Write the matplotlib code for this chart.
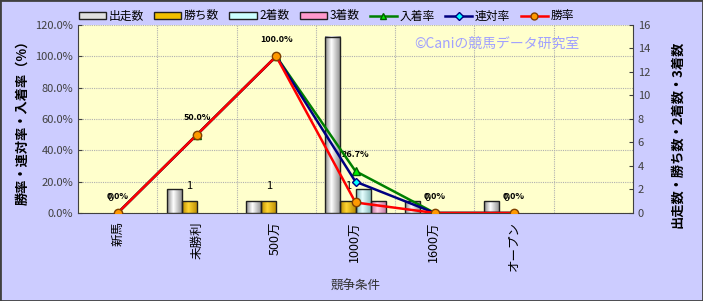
import numpy as np
import matplotlib.pyplot as plt
from matplotlib.colors import LinearSegmentedColormap
from matplotlib.patches import Rectangle
from matplotlib.lines import Line2D

plt.rcParams['font.family'] = ['Noto Sans CJK JP', 'DejaVu Sans']

# データ
categories = ['新馬', '未勝利', '500万', '1000万', '1600万', 'オープン']
starts = [0, 2, 1, 15, 1, 1]
wins = [0, 1, 1, 1, 0, 0]
seconds = [0, 0, 0, 2, 0, 0]
thirds = [0, 0, 0, 1, 0, 0]
win_rate = [0.0, 50.0, 100.0, 6.7, 0.0, 0.0]
rentai_rate = [0.0, 50.0, 100.0, 20.0, 0.0, 0.0]
place_rate = [0.0, 50.0, 100.0, 26.7, 0.0, 0.0]

x = np.arange(len(categories))
w = 0.19

fig = plt.figure(figsize=(7.03, 3.01), dpi=100, facecolor='#CCCCFF')
ax = fig.add_axes([0.111, 0.2924, 0.7894, 0.6246])
ax.set_facecolor('#FFFFCC')
ax2 = ax.twinx()
ax3 = ax.twinx()

# 棒グラフ（円柱風のグラデーション）
def grad_bars(a, xs, hs, dark, light, label):
    cmap = LinearSegmentedColormap.from_list(label, [dark, light, dark])
    grad = np.linspace(0, 1, 64)
    grad = np.clip(grad / 0.4, 0, 1) * (grad < 0.4) + (grad >= 0.4) * (1 + (grad - 0.4) / 0.6)
    grad = grad.reshape(1, -1) / 2
    bars = a.bar(xs, hs, w, color='none', edgecolor='#202020', lw=1.0, zorder=3)
    for b in bars:
        if b.get_height() <= 0:
            b.set_linewidth(0)
            continue
        a.imshow(grad, extent=[b.get_x(), b.get_x() + w, 0, b.get_height()],
                 aspect='auto', cmap=cmap, vmin=0, vmax=1, zorder=2)
    return bars

grad_bars(ax2, x - 1.5 * w, starts, '#8a8a8a', '#ffffff', 's')
grad_bars(ax2, x - 0.5 * w, wins, '#b88a00', '#ffd633', 'w')
grad_bars(ax2, x + 0.5 * w, seconds, '#7fb3b3', '#e6ffff', '2')
grad_bars(ax2, x + 1.5 * w, thirds, '#c0709a', '#ffd0e8', '3')

for xi, v in zip(x - 0.5 * w, wins):
    ax2.annotate(str(v), (xi, v), xytext=(0, 11), textcoords='offset points',
                 ha='center', va='center', fontsize=8, zorder=4)

# 折れ線
ax3.plot(x, place_rate, color='#008000', lw=1.8, marker='^', ms=6,
         mfc='#00ee00', mec='#006000', zorder=5)
ax3.plot(x, rentai_rate, color='#000080', lw=1.8, marker='D', ms=4.5,
         mfc='#00ffff', mec='#000080', zorder=6)
ax3.plot(x, win_rate, color='#ff0000', lw=1.8, marker='o', ms=6,
         mfc='#ff9900', mec='#804000', zorder=7)

for xi, v in zip(x, place_rate):
    ax3.annotate(f'{v:.1f}%', (xi, v), xytext=(0, 12), textcoords='offset points',
                 ha='center', va='center', fontsize=6.5, fontweight='bold')

# 軸
for a in (ax, ax2, ax3):
    a.set_xlim(-0.5, 6.5)
ax.set_ylim(0, 120)
ax3.set_ylim(0, 120)
ax2.set_ylim(0, 16)

ax.set_yticks(np.arange(0, 121, 20))
ax.set_yticklabels([f'{t:.1f}%' for t in np.arange(0, 121, 20)], fontsize=8, color='#404040')
ax2.set_yticks(np.arange(0, 17, 2))
ax2.tick_params(axis='y', labelsize=8, labelcolor='#404040', direction='in', length=3,
                color='#404040')
ax.tick_params(axis='y', direction='in', length=3, color='#404040')
ax3.set_yticks([])

ax.set_xticks(x)
ax.set_xticklabels(categories, rotation=90, fontsize=9)
ax.set_xticks(np.arange(0.5, 6.5, 1), minor=True)
ax.tick_params(axis='x', which='both', length=0, pad=6)

ax.grid(True, axis='y', which='major', color='#b0b0b0', ls=(0, (1, 1)), lw=0.8)
ax.grid(True, axis='x', which='minor', color='#b0b0b0', ls=(0, (1, 1)), lw=0.8)
ax.set_axisbelow(True)

for s in ax3.spines.values():
    s.set_visible(False)
for name, s in ax.spines.items():
    s.set_color('#404040')
ax.spines['right'].set_visible(False)
ax.spines['top'].set_visible(False)
ax2.spines['right'].set_color('#404040')
for name in ('left', 'top', 'bottom'):
    ax2.spines[name].set_visible(False)

ax.set_ylabel('勝率・連対率・入着率（%）', fontsize=9.5, fontweight='bold', labelpad=4)
ax2.set_ylabel('出走数・勝ち数・2着数・3着数', fontsize=9.5, fontweight='bold',
               rotation=90)
ax2.yaxis.set_label_coords(1.068, 0.42)
ax.set_xlabel('競争条件', fontsize=9, color='#303030', labelpad=6)

ax3.text(0.755, 0.9, '©Caniの競馬データ研究室', transform=ax3.transAxes,
         ha='center', va='center', fontsize=10, color='#a0a0ff')

# 凡例
handles = [
    Rectangle((0, 0), 1, 1, fc='#e0e0e0', ec='#202020'),
    Rectangle((0, 0), 1, 1, fc='#f0c000', ec='#202020'),
    Rectangle((0, 0), 1, 1, fc='#ccffff', ec='#202020'),
    Rectangle((0, 0), 1, 1, fc='#ff99cc', ec='#202020'),
    Line2D([], [], color='#008000', lw=1.8, marker='^', ms=5, mfc='#00ee00', mec='#006000'),
    Line2D([], [], color='#000080', lw=1.8, marker='D', ms=4, mfc='#00ffff', mec='#000080'),
    Line2D([], [], color='#ff0000', lw=1.8, marker='o', ms=5, mfc='#ff9900', mec='#804000'),
]
labels = ['出走数', '勝ち数', '2着数', '3着数', '入着率', '連対率', '勝率']
fig.legend(handles, labels, loc='center', bbox_to_anchor=(0.464, 0.947), ncol=7,
           frameon=False, fontsize=8.5, handlelength=2.3, handleheight=0.5,
           handletextpad=0.2, columnspacing=0.9)

fig.patches.append(Rectangle((0, 0), 1, 1, transform=fig.transFigure, fill=False,
                             edgecolor='#404040', lw=2))

fig.savefig('out.png', dpi=100, facecolor=fig.get_facecolor())
